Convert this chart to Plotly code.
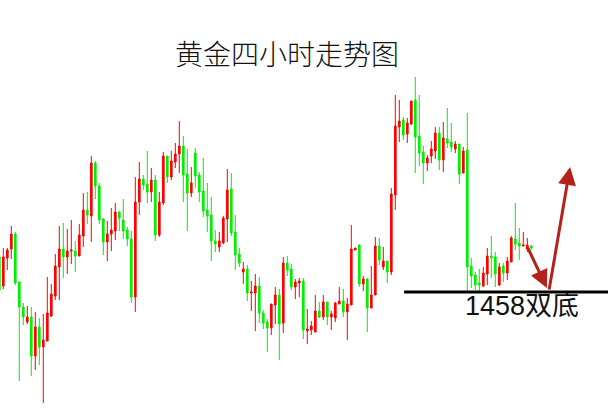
import plotly.graph_objects as go

# 4-hour gold candles (price)
opens = [1461.5, 1458.6, 1461.4, 1462.3, 1463.8, 1459.0, 1456.5, 1455.0, 1455.5, 1451.6,
         1454.5, 1452.5, 1453.1, 1455.6, 1457.6, 1460.5, 1462.3, 1461.5, 1462.1, 1462.1,
         1461.6, 1463.6, 1466.2, 1465.6, 1470.9, 1468.6, 1465.3, 1463.0, 1463.8, 1464.1,
         1466.0, 1465.2, 1464.2, 1463.3, 1457.5, 1467.0, 1469.3, 1468.8, 1468.0, 1469.2,
         1463.7, 1466.9, 1471.6, 1469.5, 1471.0, 1471.8, 1472.6, 1469.8, 1467.9, 1471.9,
         1469.7, 1468.1, 1466.2, 1465.7, 1463.1, 1462.5, 1462.9, 1465.3, 1468.3, 1464.0,
         1461.8, 1460.0, 1460.3, 1457.9, 1457.9, 1458.6, 1455.9, 1455.0, 1454.4, 1456.7,
         1457.7, 1454.9, 1460.9, 1460.3, 1458.5, 1458.9, 1459.1, 1454.1, 1454.2, 1454.0,
         1456.1, 1455.5, 1457.0, 1455.5, 1455.4, 1456.8, 1457.1, 1456.0, 1456.7, 1462.2,
         1462.7, 1458.8, 1459.3, 1456.4, 1457.7, 1462.6, 1460.5, 1461.1, 1460.0, 1467.7,
         1474.5, 1475.2, 1473.8, 1474.8, 1477.2, 1473.6, 1472.0, 1470.9, 1471.6, 1472.1,
         1473.9, 1471.2, 1473.3, 1473.0, 1472.3, 1472.8, 1469.9, 1472.2, 1460.6, 1459.7,
         1458.9, 1458.6, 1459.8, 1461.6, 1461.5, 1458.7, 1460.6, 1459.9, 1461.0, 1463.3,
         1462.9, 1462.6, 1462.3, 1462.6]
highs = [1461.7, 1462.4, 1462.4, 1464.6, 1464.0, 1459.0, 1456.9, 1456.6, 1456.5, 1456.0,
         1455.4, 1455.8, 1459.5, 1458.8, 1461.8, 1464.6, 1464.9, 1464.3, 1465.2, 1463.1,
         1464.8, 1467.9, 1468.0, 1471.6, 1471.1, 1468.9, 1465.4, 1465.1, 1466.4, 1466.9,
         1466.1, 1467.3, 1464.5, 1464.1, 1469.5, 1471.0, 1469.7, 1472.1, 1470.4, 1469.7,
         1468.0, 1472.0, 1471.6, 1472.1, 1472.9, 1475.1, 1473.6, 1472.3, 1470.5, 1472.4,
         1470.0, 1471.4, 1468.9, 1467.5, 1464.2, 1464.0, 1465.6, 1470.3, 1469.9, 1465.7,
         1462.4, 1461.0, 1460.7, 1459.1, 1459.8, 1459.5, 1456.2, 1455.3, 1456.8, 1458.5,
         1458.3, 1461.5, 1461.6, 1460.8, 1459.3, 1459.4, 1459.4, 1456.3, 1455.1, 1457.7,
         1457.0, 1457.7, 1457.0, 1456.1, 1457.0, 1458.5, 1458.3, 1457.4, 1464.7, 1462.4,
         1462.8, 1459.6, 1459.4, 1460.6, 1463.5, 1463.4, 1462.5, 1461.1, 1468.4, 1477.7,
         1477.2, 1475.5, 1475.4, 1477.1, 1479.5, 1477.7, 1472.6, 1471.7, 1473.1, 1474.5,
         1474.5, 1475.0, 1476.4, 1474.9, 1473.1, 1472.8, 1472.5, 1475.9, 1461.4, 1460.0,
         1460.3, 1460.5, 1462.4, 1463.6, 1462.0, 1460.9, 1460.9, 1461.5, 1463.6, 1466.9,
         1464.4, 1464.0, 1463.4, 1462.7]
lows = [1458.0, 1458.3, 1460.2, 1461.3, 1458.7, 1449.1, 1454.7, 1454.8, 1449.6, 1450.2,
        1450.7, 1446.9, 1453.1, 1455.5, 1457.2, 1457.2, 1459.4, 1459.8, 1460.8, 1460.0,
        1461.6, 1462.5, 1464.8, 1463.0, 1467.3, 1464.8, 1461.7, 1461.1, 1462.1, 1463.2,
        1464.1, 1463.3, 1462.6, 1456.9, 1456.0, 1465.7, 1468.2, 1466.9, 1467.0, 1463.1,
        1463.5, 1466.7, 1468.9, 1469.2, 1470.4, 1469.9, 1467.0, 1464.1, 1467.5, 1468.4,
        1467.0, 1465.5, 1464.0, 1461.1, 1462.0, 1462.0, 1462.8, 1463.0, 1463.6, 1460.2,
        1460.5, 1458.8, 1457.1, 1456.1, 1454.1, 1454.9, 1454.3, 1452.0, 1453.7, 1454.8,
        1451.2, 1453.9, 1459.6, 1458.2, 1457.3, 1457.5, 1453.3, 1452.8, 1453.7, 1454.0,
        1455.4, 1455.2, 1454.7, 1454.2, 1455.0, 1456.8, 1455.5, 1453.2, 1456.7, 1462.2,
        1458.5, 1458.1, 1454.0, 1456.4, 1457.7, 1460.7, 1460.2, 1458.9, 1459.7, 1466.2,
        1473.0, 1473.2, 1472.9, 1474.7, 1469.9, 1470.6, 1468.8, 1470.1, 1470.9, 1471.3,
        1470.2, 1470.0, 1472.4, 1472.0, 1471.9, 1468.8, 1469.9, 1457.9, 1458.4, 1458.2,
        1458.1, 1458.5, 1458.7, 1459.4, 1458.5, 1458.6, 1459.0, 1459.2, 1461.0, 1462.2,
        1461.2, 1462.6, 1462.0, 1462.2]
closes = [1458.2, 1461.5, 1462.2, 1463.8, 1458.9, 1456.5, 1455.5, 1455.5, 1451.6, 1454.5,
          1452.5, 1453.2, 1455.9, 1457.8, 1460.6, 1462.3, 1461.5, 1462.1, 1462.2, 1461.6,
          1463.7, 1466.2, 1465.7, 1470.9, 1468.6, 1465.2, 1463.0, 1463.8, 1464.2, 1466.0,
          1465.4, 1464.1, 1463.3, 1457.5, 1467.0, 1469.3, 1468.7, 1468.0, 1469.2, 1463.7,
          1467.0, 1471.6, 1469.5, 1471.1, 1471.8, 1472.6, 1469.7, 1467.9, 1468.9, 1469.6,
          1468.0, 1466.1, 1465.6, 1463.1, 1462.8, 1463.1, 1465.4, 1468.2, 1463.9, 1461.7,
          1460.9, 1460.3, 1457.9, 1458.0, 1458.6, 1455.9, 1454.9, 1454.4, 1456.8, 1457.7,
          1454.8, 1460.9, 1460.2, 1458.5, 1459.0, 1459.1, 1454.2, 1454.3, 1454.6, 1456.1,
          1455.5, 1457.0, 1455.5, 1455.8, 1456.9, 1457.1, 1456.0, 1456.8, 1462.3, 1462.4,
          1458.8, 1459.3, 1456.4, 1457.7, 1462.6, 1461.2, 1461.1, 1460.0, 1467.8, 1474.6,
          1475.1, 1473.7, 1474.9, 1477.1, 1473.5, 1471.9, 1470.9, 1471.4, 1472.3, 1473.9,
          1471.2, 1473.4, 1472.9, 1472.5, 1472.8, 1469.8, 1472.1, 1460.5, 1459.6, 1458.7,
          1458.7, 1459.9, 1461.6, 1461.4, 1459.8, 1460.5, 1459.9, 1461.1, 1463.4, 1462.8,
          1462.6, 1462.7, 1462.7, 1462.4]
bars = list(range(len(opens)))

title_text = "黄金四小时走势图"
support_level = 1458.0
support_label = "1458双底"

RED = "#FF0000"
GREEN = "#00F000"
ARROW = "#B5221B"

fig = go.Figure()
fig.add_trace(go.Candlestick(
    x=bars, open=opens, high=highs, low=lows, close=closes,
    increasing=dict(line=dict(color=RED, width=1), fillcolor=RED),
    decreasing=dict(line=dict(color=GREEN, width=1), fillcolor=GREEN),
    whiskerwidth=0, showlegend=False, hoverinfo="skip",
))

# support line
fig.add_shape(type="line", xref="x", yref="y", x0=101.2, x1=153, y0=support_level, y1=support_level,
              line=dict(color="black", width=3))

# arrows: down to the support, then up
fig.add_annotation(x=136.9, y=1458.4, ax=131.9, ay=1462.6, xref="x", yref="y", axref="x", ayref="y",
                   showarrow=True, arrowhead=2, arrowsize=1.2, arrowwidth=3, arrowcolor=ARROW, text="")
fig.add_annotation(x=142.7, y=1470.5, ax=137.4, ay=1458.1, xref="x", yref="y", axref="x", ayref="y",
                   showarrow=True, arrowhead=2, arrowsize=1.2, arrowwidth=3, arrowcolor=ARROW, text="")

fig.add_annotation(x=115.8, y=1456.6, xref="x", yref="y", text=support_label, showarrow=False,
                   xanchor="left", yanchor="middle",
                   font=dict(family="Liberation Sans, Noto Sans CJK SC", size=27, color="#111111"))

fig.add_annotation(x=0.472, y=0.872, xref="paper", yref="paper", text=title_text, showarrow=False,
                   xanchor="center", yanchor="middle",
                   font=dict(family="Noto Sans CJK SC", size=28, color="#111111", weight=300))

fig.update_layout(
    width=608, height=416,
    margin=dict(l=0, r=0, t=0, b=0),
    paper_bgcolor="white", plot_bgcolor="white",
    xaxis=dict(range=[0.175, 152.175], visible=False, rangeslider=dict(visible=False), fixedrange=True),
    yaxis=dict(range=[1445.6, 1487.2], visible=False, fixedrange=True),
    boxgap=0.4,
)

fig.write_html("out.html", config={"displayModeBar": False},
               post_script="document.body.style.margin='0';document.body.style.overflow='hidden';")
